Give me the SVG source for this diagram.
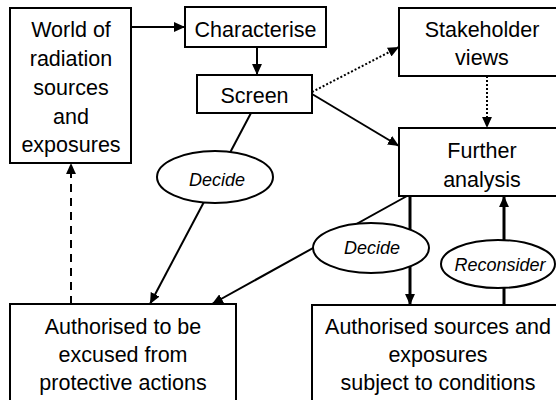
<svg xmlns="http://www.w3.org/2000/svg" width="556" height="400" viewBox="0 0 556 400">
<style>
.box{fill:#fff;stroke:#000;stroke-width:2}
.t{font-family:"Liberation Sans",Arial,sans-serif;font-size:21.5px;fill:#000;text-anchor:middle}
.i{font-family:"Liberation Sans",Arial,sans-serif;font-size:18px;font-style:italic;fill:#000;text-anchor:middle}
.c{fill:none;stroke:#000;stroke-width:2}
.thick{stroke-width:3}
.dot{stroke-dasharray:2 2}
.dash{stroke-dasharray:8 6}
</style>
<defs>
<marker id="ah" viewBox="0 0 10 9" refX="10" refY="4.5" markerWidth="11" markerHeight="10" markerUnits="userSpaceOnUse" orient="auto">
<path d="M0,0 L10,4.5 L0,9 z" fill="#000"/>
</marker>
</defs>
<rect width="556" height="400" fill="#fff"/>
<g id="connectors">
<line class="c" x1="131" y1="27" x2="185" y2="27" stroke-width="2.5" marker-end="url(#ah)"/>
<line class="c" x1="257" y1="47" x2="257" y2="75" stroke-width="2.5" marker-end="url(#ah)"/>
<line class="c dot" x1="312" y1="92" x2="399" y2="47" marker-end="url(#ah)"/>
<line class="c" x1="312" y1="94" x2="399" y2="146" marker-end="url(#ah)"/>
<line class="c dot" x1="487" y1="76" x2="487" y2="128" marker-end="url(#ah)"/>
<line class="c" x1="251" y1="113" x2="150" y2="304" marker-end="url(#ah)"/>
<line class="c" x1="407" y1="196" x2="212" y2="304" marker-end="url(#ah)"/>
<line class="c thick" x1="410" y1="196" x2="410" y2="305" marker-end="url(#ah)"/>
<line class="c thick" x1="504" y1="305" x2="504" y2="196" marker-end="url(#ah)"/>
<line class="c dash" x1="71" y1="304" x2="71" y2="163" marker-end="url(#ah)"/>
</g>
<g id="world">
<rect class="box" x="10" y="8" width="121" height="155"/>
<text class="t" x="71" y="37">World of</text>
<text class="t" x="71" y="66">radiation</text>
<text class="t" x="71" y="95">sources</text>
<text class="t" x="71" y="124">and</text>
<text class="t" x="71" y="152">exposures</text>
</g>
<g id="characterise">
<rect class="box" x="185" y="7" width="141" height="40"/>
<text class="t" x="255.5" y="37">Characterise</text>
</g>
<g id="screen">
<rect class="box" x="197" y="75" width="115" height="38"/>
<text class="t" x="254.5" y="103">Screen</text>
</g>
<g id="stakeholder">
<rect class="box" x="399" y="8" width="170" height="68"/>
<text class="t" x="482" y="37">Stakeholder</text>
<text class="t" x="482" y="65">views</text>
</g>
<g id="further">
<rect class="box" x="399" y="128" width="170" height="68"/>
<text class="t" x="482" y="158">Further</text>
<text class="t" x="482" y="187">analysis</text>
</g>
<g id="decide1">
<ellipse class="box" cx="215" cy="177" rx="58" ry="26"/>
<text class="i" x="217" y="186">Decide</text>
</g>
<g id="decide2">
<ellipse class="box" cx="371" cy="248" rx="58" ry="25"/>
<text class="i" x="372" y="254">Decide</text>
</g>
<g id="reconsider">
<ellipse class="box" cx="498" cy="264" rx="57" ry="24"/>
<text class="i" x="500" y="271">Reconsider</text>
</g>
<g id="excused">
<rect class="box" x="10" y="304" width="226" height="100"/>
<text class="t" x="123" y="334">Authorised to be</text>
<text class="t" x="123" y="362">excused from</text>
<text class="t" x="123" y="390">protective actions</text>
</g>
<g id="authorised">
<rect class="box" x="312" y="305" width="256" height="100"/>
<text class="t" x="438" y="334">Authorised sources and</text>
<text class="t" x="438" y="362">exposures</text>
<text class="t" x="438" y="390">subject to conditions</text>
</g>
</svg>
